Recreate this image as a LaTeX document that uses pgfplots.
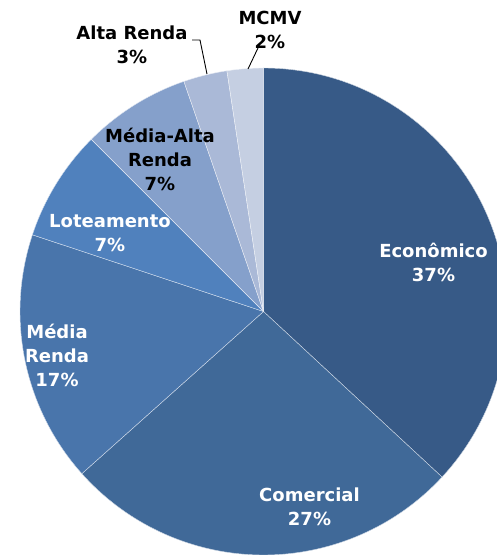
\documentclass[border=0pt]{standalone}
\usepackage{pgfplots}
\usepackage{pgfplotstable}
\pgfplotsset{compat=1.18}
\usepackage{fontspec}
\setmainfont{DejaVu Sans}
\definecolor{cEco}{HTML}{375A87}
\definecolor{cCom}{HTML}{406998}
\definecolor{cMed}{HTML}{4975AB}
\definecolor{cLot}{HTML}{5081BD}
\definecolor{cMA}{HTML}{85A0CB}
\definecolor{cAlta}{HTML}{AAB9D7}
\definecolor{cMCMV}{HTML}{C5CFE2}
\pgfplotstableread{
pct color
36.9 cEco
26.5 cCom
16.7 cMed
7.4 cLot
7.2 cMA
2.9 cAlta
2.4 cMCMV
}\piedata
\begin{document}
\begin{tikzpicture}
\begin{axis}[
  x=1pt, y=1pt,
  xmin=-263.5, xmax=233.5,
  ymin=-243.5, ymax=311.5,
  hide axis,
  clip=true,
]
\path (rel axis cs:0,0) rectangle (rel axis cs:1,1);
\pgfmathsetmacro{\cum}{0}
\pgfplotsforeachungrouped \i in {0,...,6}{%
  \pgfplotstablegetelem{\i}{pct}\of\piedata \let\pval=\pgfplotsretval
  \pgfplotstablegetelem{\i}{color}\of\piedata \let\slicecol=\pgfplotsretval
  \pgfmathsetmacro{\angA}{90-3.6*\cum}
  \pgfmathsetmacro{\angB}{90-3.6*(\cum+\pval)}
  \pgfmathsetmacro{\cum}{\cum+\pval}
  \edef\cmd{\noexpand\fill[\slicecol, draw=white!75!\slicecol, line width=0.4pt] (axis cs:0,0) -- ++(\angA:243.5pt) arc[start angle=\angA, end angle=\angB, radius=243.5pt] -- cycle;}%
  \cmd
}
\tikzset{lab/.style={font=\bfseries\fontsize{18}{24}\selectfont, align=center}}
\node[lab, white] at (axis cs:170,49.5) {Econômico\\37\%};
\node[lab, white] at (axis cs:46,-195.5) {Comercial\\27\%};
\node[lab, white] at (axis cs:-206.5,-43.5) {Média\\Renda\\17\%};
\node[lab, white] at (axis cs:-153.5,78.5) {Loteamento\\7\%};
\node[lab, black] at (axis cs:-103.5,152.5) {Média-Alta\\Renda\\7\%};
\node[lab, black] at (axis cs:-131.5,266.5) {Alta Renda\\3\%};
\node[lab, black] at (axis cs:6.5,281.5) {MCMV\\2\%};
\draw[black, line width=0.9pt] (axis cs:-71.5,271.5) -- (axis cs:-63.5,271.5) -- (axis cs:-56.5,237.5);
\draw[black, line width=0.9pt] (axis cs:-5.5,263.5) -- (axis cs:-15.5,242.5);
\end{axis}
\end{tikzpicture}
\end{document}
